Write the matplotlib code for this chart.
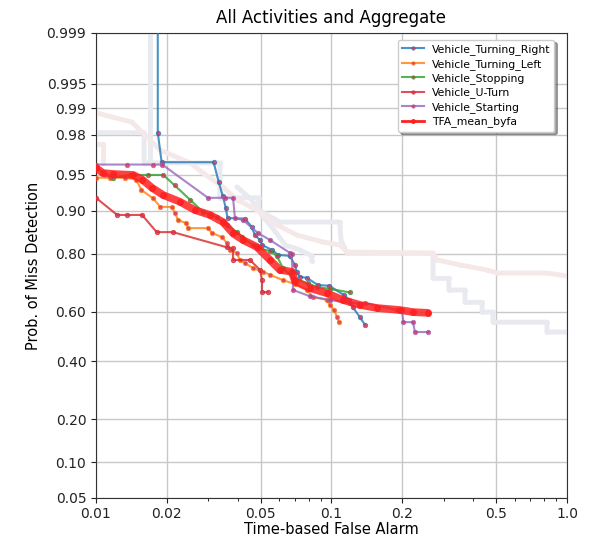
import numpy as np
import matplotlib
matplotlib.use("Agg")
import matplotlib.pyplot as plt
from matplotlib.lines import Line2D
from matplotlib.ticker import FixedLocator, FixedFormatter, NullLocator, LogLocator, NullFormatter
from statistics import NormalDist

# ---------------- data ----------------
turning_right_fa = [0.0183, 0.0183, 0.0190, 0.0316, 0.0332, 0.0346, 0.0356, 0.0362, 0.0429, 0.0458,
                    0.0473, 0.0497, 0.0507, 0.0559, 0.0593, 0.0665, 0.0700, 0.0711, 0.0734, 0.0785,
                    0.0875, 0.0980, 0.1130, 0.1190, 0.1230, 0.1320, 0.1390]
turning_right_pm = [0.9995, 0.981, 0.962, 0.962, 0.942, 0.923, 0.904, 0.886, 0.885, 0.868,
                    0.849, 0.837, 0.824, 0.811, 0.797, 0.794, 0.767, 0.745, 0.728, 0.725,
                    0.700, 0.697, 0.663, 0.645, 0.618, 0.578, 0.546]

turning_left_fa = [0.0100, 0.0115, 0.0133, 0.0148, 0.0156, 0.0175, 0.0187, 0.0210, 0.0217, 0.0223,
                   0.0241, 0.0246, 0.0299, 0.0311, 0.0343, 0.0360, 0.0370, 0.0397, 0.0408, 0.0429,
                   0.0464, 0.0512, 0.0548, 0.0622, 0.0700, 0.0786, 0.0835, 0.0956, 0.0985, 0.1026,
                   0.1056, 0.1076]
turning_left_pm = [0.947, 0.947, 0.947, 0.945, 0.932, 0.920, 0.907, 0.906, 0.895, 0.882,
                   0.876, 0.865, 0.865, 0.854, 0.844, 0.829, 0.811, 0.802, 0.782, 0.773,
                   0.757, 0.745, 0.735, 0.717, 0.703, 0.682, 0.656, 0.645, 0.626, 0.606,
                   0.578, 0.558]

stopping_fa = [0.0100, 0.0118, 0.0139, 0.0166, 0.0193, 0.0216, 0.0251, 0.0284, 0.0326, 0.0360,
               0.0397, 0.0417, 0.0464, 0.0487, 0.0548, 0.0586, 0.0622, 0.0687, 0.0793, 0.0866,
               0.0985, 0.1197]
stopping_pm = [0.957, 0.947, 0.950, 0.950, 0.950, 0.938, 0.918, 0.898, 0.888, 0.871,
               0.856, 0.844, 0.824, 0.816, 0.808, 0.794, 0.757, 0.724, 0.706, 0.693,
               0.686, 0.673]

uturn_fa = [0.0100, 0.0123, 0.0135, 0.0157, 0.0181, 0.0212, 0.0360, 0.0382, 0.0382, 0.0451,
            0.0497, 0.0507, 0.0507, 0.0537]
uturn_pm = [0.921, 0.892, 0.892, 0.892, 0.856, 0.856, 0.818, 0.816, 0.782, 0.782,
            0.751, 0.717, 0.674, 0.674]

starting_fa = [0.0100, 0.0135, 0.0174, 0.0191, 0.0299, 0.0352, 0.0382, 0.0389, 0.0421, 0.0487,
               0.0548, 0.0665, 0.0678, 0.0687, 0.0809, 0.0985, 0.1197, 0.1390, 0.1900, 0.1990,
               0.2020, 0.2220, 0.2260, 0.2570]
starting_pm = [0.960, 0.960, 0.960, 0.960, 0.921, 0.921, 0.921, 0.886, 0.882, 0.854,
               0.837, 0.803, 0.800, 0.682, 0.659, 0.645, 0.633, 0.633, 0.606, 0.606,
               0.558, 0.558, 0.518, 0.518]

mean_fa = [0.0100, 0.0107, 0.0118, 0.0144, 0.0157, 0.0173, 0.0193, 0.0227, 0.0263, 0.0305,
           0.0346, 0.0382, 0.0421, 0.0482, 0.0548, 0.0604, 0.0679, 0.0700, 0.0809, 0.0956,
           0.1118, 0.1320, 0.1560, 0.1960, 0.2220, 0.2570]
mean_pm = [0.957, 0.952, 0.951, 0.950, 0.945, 0.935, 0.925, 0.915, 0.901, 0.892,
           0.878, 0.853, 0.837, 0.819, 0.782, 0.751, 0.745, 0.713, 0.689, 0.670,
           0.645, 0.626, 0.614, 0.606, 0.598, 0.595]

# faint background curves
ghost_pink_fa = [0.0100, 0.0142, 0.0187, 0.0251, 0.0285, 0.0346, 0.0397, 0.0483, 0.0587, 0.0714,
                 0.0920, 0.1087, 0.1163, 0.2700, 0.2805, 0.3510, 0.4570, 0.5045, 0.8220, 1.0000]
ghost_pink_pm = [0.9886, 0.9855, 0.9712, 0.9614, 0.952, 0.936, 0.918, 0.901, 0.872, 0.849,
                 0.832, 0.824, 0.805, 0.802, 0.782, 0.767, 0.751, 0.741, 0.741, 0.731]

ghost_gray_fa = [0.0100, 0.0160, 0.0160, 0.0336, 0.0336, 0.0491, 0.0491, 0.0604, 0.1085, 0.1097,
                 0.1163, 0.2700, 0.2700, 0.3150, 0.3150, 0.3690, 0.3690, 0.4360, 0.4360, 0.4850,
                 0.4850, 0.8220, 0.8220, 1.0000]
ghost_gray_pm = [0.981, 0.981, 0.9614, 0.9614, 0.921, 0.921, 0.901, 0.878, 0.878, 0.837,
                 0.802, 0.802, 0.723, 0.723, 0.682, 0.682, 0.636, 0.636, 0.598, 0.598,
                 0.558, 0.558, 0.518, 0.518]

ghost_gray2_fa = [0.0170, 0.0170, 0.0170]
ghost_gray2_pm = [0.9995, 0.981, 0.9614]

ghost_gray3_fa = [0.0397, 0.0458, 0.0507, 0.0570, 0.0636, 0.0734, 0.0825, 0.0825]
ghost_gray3_pm = [0.936, 0.918, 0.891, 0.861, 0.824, 0.811, 0.794, 0.778]

ghost_pink2_fa = [0.0100, 0.0107, 0.0107]
ghost_pink2_pm = [0.975, 0.975, 0.9614]

yticks = [0.05, 0.10, 0.20, 0.40, 0.60, 0.80, 0.90, 0.95, 0.98, 0.99, 0.995, 0.999]
ytick_labels = ["0.05", "0.10", "0.20", "0.40", "0.60", "0.80", "0.90", "0.95", "0.98", "0.99", "0.995", "0.999"]
xticks = [0.01, 0.02, 0.05, 0.1, 0.2, 0.5, 1.0]
xtick_labels = ["0.01", "0.02", "0.05", "0.1", "0.2", "0.5", "1.0"]

series_names = ["Vehicle_Turning_Right", "Vehicle_Turning_Left", "Vehicle_Stopping",
                "Vehicle_U-Turn", "Vehicle_Starting"]
series_colors = ["#1f77b4", "#ff7f0e", "#2ca02c", "#d62728", "#9467bd"]

# ---------------- probit scale ----------------
_nd = NormalDist()
_ppf = np.vectorize(_nd.inv_cdf, otypes=[float])
_cdf = np.vectorize(_nd.cdf, otypes=[float])


def fwd(p):
    p = np.clip(np.asarray(p, dtype=float), 1e-9, 1 - 1e-9)
    return _ppf(p)


def inv(z):
    return _cdf(np.asarray(z, dtype=float))


fig = plt.figure(figsize=(5.95, 5.40), dpi=100)
ax = fig.add_axes([0.1613, 0.0778, 0.9529 - 0.1613, 0.9389 - 0.0778])
ax.set_xscale("log")
ax.set_yscale("function", functions=(fwd, inv))

# ghosts
gkw = dict(lw=3.5, marker="o", ms=2.5, solid_capstyle="round", zorder=1)
ax.plot(ghost_gray_fa, ghost_gray_pm, color="#e9e9f0", **gkw)
ax.plot(ghost_gray2_fa, ghost_gray2_pm, color="#e9e9f0", **gkw)
ax.plot(ghost_gray3_fa, ghost_gray3_pm, color="#e9e9f0", **gkw)
ax.plot(ghost_pink_fa, ghost_pink_pm, color="#f5e8e8", **gkw)
ax.plot(ghost_pink2_fa, ghost_pink2_pm, color="#f5e8e8", **gkw)

data = [(turning_right_fa, turning_right_pm), (turning_left_fa, turning_left_pm),
        (stopping_fa, stopping_pm), (uturn_fa, uturn_pm), (starting_fa, starting_pm)]
handles = []
for (fa, pm), name, col in zip(data, series_names, series_colors):
    ax.plot(fa, pm, color=col, lw=1.5, alpha=0.8, marker="o", ms=3.2,
            mfc="#d8305a", mec=col, mew=0.6, zorder=3)
    handles.append(Line2D([], [], color=col, lw=1.5, alpha=0.8, marker="o", ms=2.5,
                          mfc="#d8305a", mec=col, mew=0.5))

ax.plot(mean_fa, mean_pm, color="#ff2020", lw=5.5, alpha=0.85, marker="o", ms=4,
        solid_capstyle="round", zorder=4)
handles.append(Line2D([], [], color="#ff2020", lw=2, marker="o", ms=2.5))

ax.set_xlim(0.01, 1.0)
ax.set_ylim(0.05, 0.999)
ax.xaxis.set_major_locator(FixedLocator(xticks))
ax.xaxis.set_major_formatter(FixedFormatter(xtick_labels))
ax.xaxis.set_minor_locator(LogLocator(base=10, subs=np.arange(2, 10) * 1.0))
ax.xaxis.set_minor_formatter(NullFormatter())
ax.yaxis.set_major_locator(FixedLocator(yticks))
ax.yaxis.set_major_formatter(FixedFormatter(ytick_labels))
ax.yaxis.set_minor_locator(NullLocator())
ax.tick_params(axis="both", labelsize=10, colors="#222222")
ax.tick_params(axis="x", pad=3)
ax.grid(True, which="major", color="#c8c8c8", lw=1.0)
ax.set_axisbelow(True)
for s in ax.spines.values():
    s.set_color("#333333")

ax.set_title("All Activities and Aggregate", fontsize=12, pad=7)
ax.set_xlabel("Time-based False Alarm", fontsize=10.5, labelpad=1)
ax.set_ylabel("Prob. of Miss Detection", fontsize=10.5)

leg = ax.legend(handles, series_names + ["TFA_mean_byfa"], loc="upper right",
                bbox_to_anchor=(0.985, 0.997), fontsize=7.8, shadow=True, fancybox=True,
                framealpha=1.0, handlelength=2.0, handletextpad=0.7, labelspacing=0.33,
                borderpad=0.4)

fig.savefig("out.png", dpi=100)
